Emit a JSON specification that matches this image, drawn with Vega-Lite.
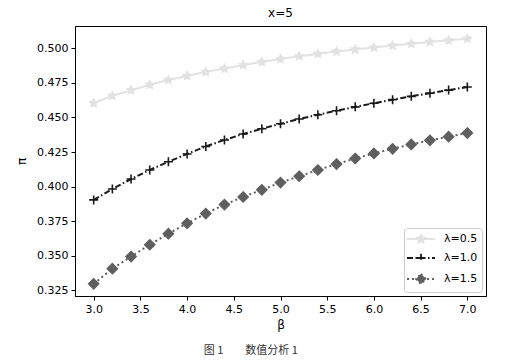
{
  "$schema": "https://vega.github.io/schema/vega-lite/v6.json",
  "autosize": {"type": "pad"},
  "padding": {"left": 15, "top": 6, "right": 37, "bottom": 0},
  "background": "white",
  "title": {"text": "图 1　　数值分析 1", "orient": "bottom", "font": "Noto Sans CJK SC", "fontSize": 11, "fontWeight": "normal", "color": "#333", "anchor": "middle", "offset": 14},
  "resolve": {"legend": {"color": "independent"}, "scale": {"color": "independent", "strokeDash": "independent"}},
  "config": {
    "view": {"stroke": "#000", "strokeWidth": 1},
    "font": "DejaVu Sans",
    "axis": {"domainColor": "#000", "tickColor": "#000", "tickSize": 4, "labelFont": "DejaVu Sans", "labelFontSize": 11, "labelColor": "#000", "titleFont": "DejaVu Sans", "titleFontSize": 12, "titleFontWeight": "normal", "titleColor": "#000", "grid": false, "labelPadding": 3}
  },
  "vconcat": [
    {
      "width": 411,
      "height": 270,
      "title": {"text": "x=5", "font": "DejaVu Sans", "fontSize": 12, "fontWeight": "normal", "color": "#000", "anchor": "middle", "frame": "group", "offset": 6},
      "data": {"values": [
        {"beta": 3.0, "pi": 0.4603, "lam": "λ=0.5"}, {"beta": 3.2, "pi": 0.4656, "lam": "λ=0.5"}, {"beta": 3.4, "pi": 0.4695, "lam": "λ=0.5"}, {"beta": 3.6, "pi": 0.4735, "lam": "λ=0.5"}, {"beta": 3.8, "pi": 0.4770, "lam": "λ=0.5"}, {"beta": 4.0, "pi": 0.4800, "lam": "λ=0.5"}, {"beta": 4.2, "pi": 0.4828, "lam": "λ=0.5"}, {"beta": 4.4, "pi": 0.4853, "lam": "λ=0.5"}, {"beta": 4.6, "pi": 0.4878, "lam": "λ=0.5"}, {"beta": 4.8, "pi": 0.4901, "lam": "λ=0.5"}, {"beta": 5.0, "pi": 0.4922, "lam": "λ=0.5"}, {"beta": 5.2, "pi": 0.4941, "lam": "λ=0.5"}, {"beta": 5.4, "pi": 0.4959, "lam": "λ=0.5"}, {"beta": 5.6, "pi": 0.4976, "lam": "λ=0.5"}, {"beta": 5.8, "pi": 0.4991, "lam": "λ=0.5"}, {"beta": 6.0, "pi": 0.5005, "lam": "λ=0.5"}, {"beta": 6.2, "pi": 0.5019, "lam": "λ=0.5"}, {"beta": 6.4, "pi": 0.5032, "lam": "λ=0.5"}, {"beta": 6.6, "pi": 0.5045, "lam": "λ=0.5"}, {"beta": 6.8, "pi": 0.5057, "lam": "λ=0.5"}, {"beta": 7.0, "pi": 0.5069, "lam": "λ=0.5"},
        {"beta": 3.0, "pi": 0.3904, "lam": "λ=1.0"}, {"beta": 3.2, "pi": 0.3983, "lam": "λ=1.0"}, {"beta": 3.4, "pi": 0.4055, "lam": "λ=1.0"}, {"beta": 3.6, "pi": 0.4120, "lam": "λ=1.0"}, {"beta": 3.8, "pi": 0.4180, "lam": "λ=1.0"}, {"beta": 4.0, "pi": 0.4236, "lam": "λ=1.0"}, {"beta": 4.2, "pi": 0.4290, "lam": "λ=1.0"}, {"beta": 4.4, "pi": 0.4337, "lam": "λ=1.0"}, {"beta": 4.6, "pi": 0.4380, "lam": "λ=1.0"}, {"beta": 4.8, "pi": 0.4418, "lam": "λ=1.0"}, {"beta": 5.0, "pi": 0.4454, "lam": "λ=1.0"}, {"beta": 5.2, "pi": 0.4488, "lam": "λ=1.0"}, {"beta": 5.4, "pi": 0.4519, "lam": "λ=1.0"}, {"beta": 5.6, "pi": 0.4548, "lam": "λ=1.0"}, {"beta": 5.8, "pi": 0.4576, "lam": "λ=1.0"}, {"beta": 6.0, "pi": 0.4602, "lam": "λ=1.0"}, {"beta": 6.2, "pi": 0.4628, "lam": "λ=1.0"}, {"beta": 6.4, "pi": 0.4652, "lam": "λ=1.0"}, {"beta": 6.6, "pi": 0.4675, "lam": "λ=1.0"}, {"beta": 6.8, "pi": 0.4697, "lam": "λ=1.0"}, {"beta": 7.0, "pi": 0.4719, "lam": "λ=1.0"},
        {"beta": 3.0, "pi": 0.3298, "lam": "λ=1.5"}, {"beta": 3.2, "pi": 0.3407, "lam": "λ=1.5"}, {"beta": 3.4, "pi": 0.3495, "lam": "λ=1.5"}, {"beta": 3.6, "pi": 0.3580, "lam": "λ=1.5"}, {"beta": 3.8, "pi": 0.3660, "lam": "λ=1.5"}, {"beta": 4.0, "pi": 0.3735, "lam": "λ=1.5"}, {"beta": 4.2, "pi": 0.3805, "lam": "λ=1.5"}, {"beta": 4.4, "pi": 0.3870, "lam": "λ=1.5"}, {"beta": 4.6, "pi": 0.3925, "lam": "λ=1.5"}, {"beta": 4.8, "pi": 0.3977, "lam": "λ=1.5"}, {"beta": 5.0, "pi": 0.4029, "lam": "λ=1.5"}, {"beta": 5.2, "pi": 0.4075, "lam": "λ=1.5"}, {"beta": 5.4, "pi": 0.4120, "lam": "λ=1.5"}, {"beta": 5.6, "pi": 0.4163, "lam": "λ=1.5"}, {"beta": 5.8, "pi": 0.4203, "lam": "λ=1.5"}, {"beta": 6.0, "pi": 0.4240, "lam": "λ=1.5"}, {"beta": 6.2, "pi": 0.4273, "lam": "λ=1.5"}, {"beta": 6.4, "pi": 0.4305, "lam": "λ=1.5"}, {"beta": 6.6, "pi": 0.4334, "lam": "λ=1.5"}, {"beta": 6.8, "pi": 0.4361, "lam": "λ=1.5"}, {"beta": 7.0, "pi": 0.4387, "lam": "λ=1.5"}
      ]},
      "encoding": {
        "x": {"field": "beta", "type": "quantitative", "scale": {"domain": [2.8, 7.2], "nice": false, "zero": false}, "axis": {"values": [3, 3.5, 4, 4.5, 5, 5.5, 6, 6.5, 7], "format": ".1f", "title": "β", "titlePadding": 5}},
        "y": {"field": "pi", "type": "quantitative", "scale": {"domain": [0.321, 0.516], "nice": false, "zero": false}, "axis": {"values": [0.325, 0.35, 0.375, 0.4, 0.425, 0.45, 0.475, 0.5], "format": ".3f", "title": "π", "titlePadding": 8}}
      },
      "layer": [
        {
          "mark": {"type": "line", "strokeWidth": 2},
          "encoding": {
            "color": {"field": "lam", "type": "nominal", "scale": {"domain": ["λ=0.5", "λ=1.0", "λ=1.5"], "range": ["#e2e2e2", "#1a1a1a", "#5f5f5f"]}, "legend": {
              "title": null, "orient": "bottom-right", "offset": 4, "strokeColor": "#cccccc", "fillColor": "white", "cornerRadius": 3, "padding": 4, "rowPadding": 4, "labelFont": "DejaVu Sans", "labelFontSize": 11, "labelColor": "#000", "labelOffset": 22, "symbolSize": 144,
              "encode": {"symbols": {"update": {
                "shape": {"signal": "datum.value == 'λ=0.5' ? 'M-1.33,0L3.33,0M1,-0.7L1.206,-0.283L1.666,-0.216L1.333,0.108L1.412,0.566L1,0.35L0.588,0.566L0.667,0.108L0.334,-0.216L0.794,-0.283Z' : datum.value == 'λ=1.0' ? 'M-1.33,0L3.33,0M1,-0.7L1,0.7M0.3,0L1.7,0' : 'M-1.33,0L3.33,0M1,-0.85L1.85,0L1,0.85L0.15,0Z'"},
                "stroke": {"signal": "datum.value == 'λ=0.5' ? '#e2e2e2' : datum.value == 'λ=1.0' ? '#1a1a1a' : '#5f5f5f'"},
                "fill": {"signal": "datum.value == 'λ=0.5' ? '#e2e2e2' : datum.value == 'λ=1.0' ? '#1a1a1a' : '#5f5f5f'"},
                "strokeWidth": {"value": 1.8},
                "strokeDash": {"signal": "datum.value == 'λ=0.5' ? [1,0] : datum.value == 'λ=1.0' ? [6,2.5,1.5,2.5] : [2,3]"},
                "opacity": {"value": 1}
              }}}
            }},
            "strokeDash": {"field": "lam", "type": "nominal", "scale": {"domain": ["λ=0.5", "λ=1.0", "λ=1.5"], "range": [[1, 0], [6, 2.5, 1.5, 2.5], [2, 3]]}, "legend": null}
          }
        },
        {
          "transform": [{"filter": "datum.lam == 'λ=0.5'"}],
          "mark": {"type": "point", "filled": true, "opacity": 1, "size": 100, "strokeWidth": 1.2, "color": "#e2e2e2", "stroke": "#e2e2e2", "shape": "M0,-0.9L0.265,-0.364L0.856,-0.278L0.428,0.139L0.529,0.728L0,0.45L-0.529,0.728L-0.428,0.139L-0.856,-0.278L-0.265,-0.364Z"}
        },
        {
          "transform": [{"filter": "datum.lam == 'λ=1.0'"}],
          "mark": {"type": "point", "filled": true, "opacity": 1, "size": 100, "strokeWidth": 1.6, "color": "#1a1a1a", "stroke": "#1a1a1a", "shape": "M-0.9,0L0.9,0M0,-0.9L0,0.9"}
        },
        {
          "transform": [{"filter": "datum.lam == 'λ=1.5'"}],
          "mark": {"type": "point", "filled": true, "opacity": 1, "size": 100, "strokeWidth": 1.2, "color": "#5f5f5f", "stroke": "#5f5f5f", "shape": "M0,-1.05L1.05,0L0,1.05L-1.05,0Z"}
        }
      ]
    }
  ]
}
